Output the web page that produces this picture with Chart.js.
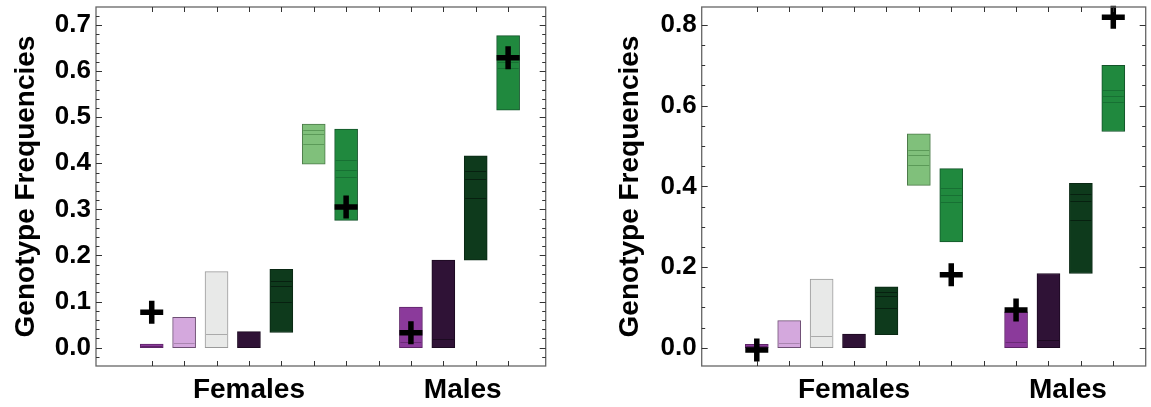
<!DOCTYPE html>
<html lang="en">
<head>
<meta charset="UTF-8">
<title>Genotype Frequencies</title>
<script src="https://cdn.jsdelivr.net/npm/chart.js"></script>
<style>
  body { margin: 0; background: #fff; }
  .wrap { position: relative; width: 1151px; height: 407px; }
  canvas { position: absolute; top: 0; }
  #left { left: 0; }
  #right { left: 575px; }
</style>
</head>
<body>
<div class="wrap">
  <canvas id="left" width="575" height="407"></canvas>
  <canvas id="right" width="576" height="407"></canvas>
</div>
<script>
// x slots of the boxes (slot 8 is the gap between the two groups)
const boxSlots = [1, 2, 3, 4, 5, 6, 7, 9, 10, 11, 12];
const tickSlots = [1, 2, 3, 4, 5, 6, 7, 8, 9, 10, 11, 12];
const groupNames = ['Females', 'Males'];
const groupCenters = [4, 10.6];
const plusSlots = [1, 7, 9, 12];

// left panel: box ranges, inner quantile lines, observed values
const leftLow  = [0, 0, 0, 0, 0.033, 0.398, 0.276, 0, 0, 0.19, 0.515];
const leftHigh = [0.008, 0.066, 0.165, 0.035, 0.17, 0.485, 0.474, 0.088, 0.19, 0.416, 0.677];
const leftInner = [[0.004], [0.0095], [0.03], [], [0.10, 0.134, 0.145], [0.4425, 0.463, 0.472],
  [0.37, 0.385, 0.408], [0.0117], [0.0195], [0.324, 0.367, 0.383], [0.606, 0.620, 0.63]];
const leftPlus = [0.077, 0.305, 0.0325, 0.629];

// right panel
const rightLow  = [0, 0, 0, 0, 0.032, 0.4025, 0.262, 0, 0, 0.184, 0.536];
const rightHigh = [0.0084, 0.067, 0.170, 0.034, 0.151, 0.530, 0.444, 0.089, 0.184, 0.4075, 0.700];
const rightInner = [[0.004], [0.011], [0.029], [], [0.0977, 0.128, 0.138], [0.452, 0.477, 0.489],
  [0.361, 0.3785, 0.395], [0.0134], [0.019], [0.317, 0.3637, 0.382], [0.609, 0.623, 0.639]];
const rightPlus = [-0.0057, 0.181, 0.0935, 0.819];

const fills   = ['#8b3a9b', '#d4a8dd', '#e8e9e8', '#2f1236', '#0e3a1c', '#80c07b', '#20893e',
                 '#8b3a9b', '#2f1236', '#0e3a1c', '#20893e'];
const borders = ['#5e2468', '#6e4f74', '#9a9a9a', '#1c0a21', '#0a2814', '#4b7a48', '#13542a',
                 '#5e2468', '#1c0a21', '#0a2814', '#13542a'];
const lines   = ['#5e2468', '#a985b0', '#aaaaaa', '#1c0a21', '#072010', '#5b9a58', '#177033',
                 '#6a2a76', '#1c0a21', '#072010', '#177033'];

const FONT = 'Liberation Sans, Arial, Helvetica, sans-serif';

// inner lines of each box plus the framed axes with inward ticks
const boxPlugin = {
  id: 'boxLines',
  afterDatasetDraw(chart, args, opts) {
    if (args.index !== 0) return;
    const ctx = chart.ctx, y = chart.scales.y;
    const meta = chart.getDatasetMeta(0);
    ctx.save();
    ctx.lineWidth = 1;
    opts.inner.forEach((vals, i) => {
      const bar = meta.data[i];
      const half = bar.width / 2;
      ctx.strokeStyle = lines[i];
      vals.forEach(v => {
        const py = Math.round(y.getPixelForValue(v)) + 0.5;
        ctx.beginPath();
        ctx.moveTo(bar.x - half + 1, py);
        ctx.lineTo(bar.x + half - 1, py);
        ctx.stroke();
      });
    });
    ctx.restore();
  },
  afterDraw(chart, args, opts) {
    const ctx = chart.ctx, a = chart.chartArea;
    const x = chart.scales.x, y = chart.scales.y;
    ctx.save();
    ctx.strokeStyle = '#666';
    ctx.lineWidth = 1.3;
    ctx.strokeRect(a.left, a.top, a.right - a.left, a.bottom - a.top);
    ctx.lineWidth = 1;
    ctx.strokeStyle = '#333';
    const k0 = Math.ceil(y.min / opts.minor - 1e-9), k1 = Math.floor(y.max / opts.minor + 1e-9);
    for (let k = k0; k <= k1; k++) {
      const v = k * opts.minor;
      const r = v / opts.major;
      const len = Math.abs(r - Math.round(r)) < 1e-6 ? 6 : 3.5;
      const py = Math.round(y.getPixelForValue(v)) + 0.5;
      ctx.beginPath();
      ctx.moveTo(a.left, py); ctx.lineTo(a.left + len, py);
      ctx.moveTo(a.right, py); ctx.lineTo(a.right - len, py);
      ctx.stroke();
    }
    tickSlots.forEach(s => {
      const px = Math.round(x.getPixelForValue(s)) + 0.5;
      ctx.beginPath();
      ctx.moveTo(px, a.top); ctx.lineTo(px, a.top + 5);
      ctx.moveTo(px, a.bottom); ctx.lineTo(px, a.bottom - 5);
      ctx.stroke();
    });
    ctx.restore();
  }
};

function makePanel(id, low, high, inner, plus, cfg) {
  const bars = boxSlots.map((s, i) => ({ x: s, y: [low[i], high[i]] }));
  const marks = plusSlots.map((s, i) => ({ x: s, y: plus[i] }));
  return new Chart(document.getElementById(id), {
    type: 'bar',
    data: {
      datasets: [{
        type: 'bar',
        data: bars,
        backgroundColor: fills,
        borderColor: borders,
        borderWidth: 1,
        borderSkipped: false,
        barThickness: 23,
        order: 2
      }, {
        type: 'scatter',
        data: marks,
        pointStyle: 'cross',
        pointRadius: 11.5,
        pointBorderWidth: 5.5,
        borderColor: '#000',
        backgroundColor: '#000',
        clip: false,
        order: 1
      }]
    },
    options: {
      responsive: false,
      animation: false,
      events: [],
      layout: { autoPadding: false, padding: { top: 7, right: cfg.padRight, bottom: 0, left: 0 } },
      plugins: {
        legend: { display: false },
        tooltip: { enabled: false },
        boxLines: { inner: inner, major: cfg.major, minor: cfg.minor }
      },
      scales: {
        x: {
          type: 'linear',
          min: cfg.xMin,
          max: cfg.xMax,
          offset: false,
          grid: { display: false, offset: false },
          border: { display: false },
          afterBuildTicks: s => { s.ticks = groupCenters.map(v => ({ value: v })); },
          afterFit: s => { s.height = 41; s.paddingLeft = 0; s.paddingRight = 0; },
          ticks: {
            autoSkip: false,
            maxRotation: 0,
            padding: -1,
            color: '#000',
            font: { family: FONT, size: 28, weight: 'bold' },
            callback: (v, i) => groupNames[i]
          }
        },
        y: {
          min: cfg.yMin,
          max: cfg.yMax,
          grid: { display: false, drawTicks: false },
          border: { display: false },
          afterFit: s => { s.width = cfg.axisWidth; s.paddingTop = 0; s.paddingBottom = 0; },
          ticks: {
            stepSize: cfg.major,
            includeBounds: false,
            padding: 5,
            color: '#000',
            font: { family: FONT, size: 26, weight: 'bold' },
            callback: v => v.toFixed(1)
          },
          title: {
            display: true,
            text: 'Genotype Frequencies',
            color: '#000',
            font: { family: FONT, size: 28, weight: 'bold' },
            padding: { top: cfg.titlePad, bottom: 0 }
          }
        }
      }
    },
    plugins: [boxPlugin]
  });
}

makePanel('left', leftLow, leftHigh, leftInner, leftPlus, {
  xMin: -0.72, xMax: 13.16, yMin: -0.0397, yMax: 0.739,
  major: 0.1, minor: 0.02, axisWidth: 96, padRight: 29.3, titlePad: 9
});
makePanel('right', rightLow, rightHigh, rightInner, rightPlus, {
  xMin: -0.70, xMax: 13.0, yMin: -0.0454, yMax: 0.8446,
  major: 0.2, minor: 0.05, axisWidth: 126.7, padRight: 5.3, titlePad: 38
});
</script>
</body>
</html>
